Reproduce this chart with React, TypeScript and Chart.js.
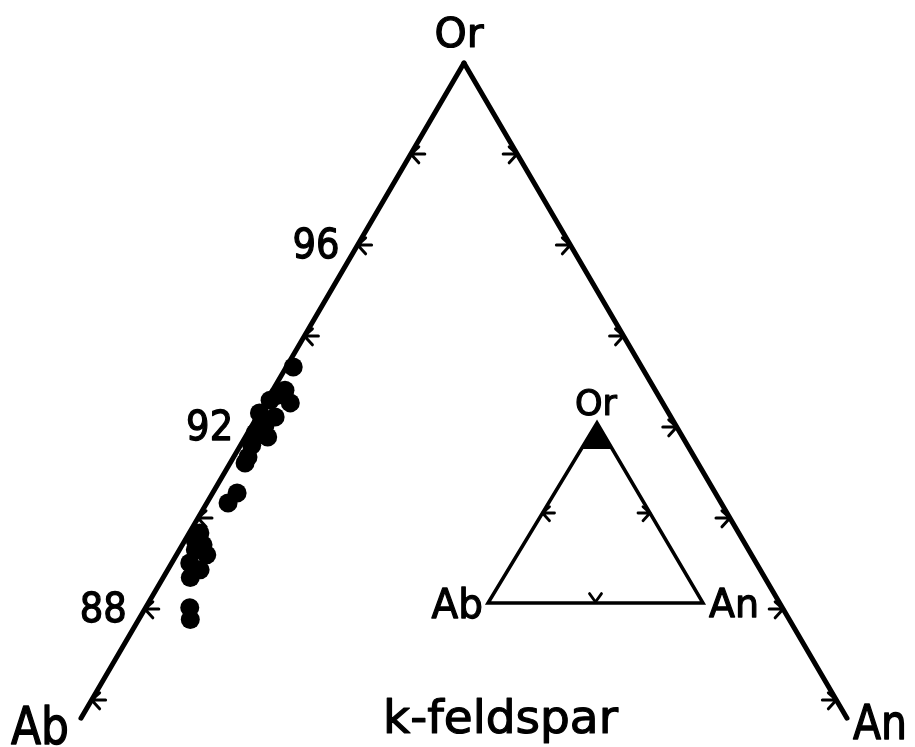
import React, { useEffect, useRef } from "react";
import { Chart, registerables } from "chart.js";

Chart.register(...registerables);

// ---- data (ternary: Or %, An %, Ab = remainder) ----
const OR_VALUES = [93.32, 92.81, 92.7, 92.53, 92.59, 92.31, 92.22, 92.14, 92.04, 91.87, 91.78, 91.6, 91.34, 91.21, 90.55, 90.33, 89.67, 89.5, 89.41, 89.3, 89.19, 89.01, 88.86, 88.69, 88.03, 87.77];
const AN_VALUES = [0.13, 0.23, 0.15, 0.47, 0.06, 0.0, 0.34, 0.13, 0.24, 0.14, 0.42, 0.21, 0.27, 0.28, 0.46, 0.4, 0.2, 0.2, 0.39, 0.3, 0.57, 0.34, 0.61, 0.51, 0.83, 0.97];
const OR_MIN = 85.6; // lower limit of the enlarged Or corner
const EDGE_TICKS = [86, 88, 90, 92, 94, 96, 98];
const LABELED_TICKS = ["88", "92", "96"];
const CORNER_LABELS = ["Or", "Ab", "An"];
const TITLE = "k-feldspar";

// ternary -> cartesian (x = An + Or/2, y = Or)
const tx = (or: number, an: number) => an + or / 2;

export default function App() {
  const ref = useRef<HTMLCanvasElement | null>(null);
  useEffect(() => {
    const canvas = ref.current!;
    const leftEdge = [
      { x: tx(100, 0), y: 100 },
      { x: tx(OR_MIN, 0), y: OR_MIN },
    ];
    const rightEdge = [
      { x: tx(100, 0), y: 100 },
      { x: tx(OR_MIN, 100 - OR_MIN), y: OR_MIN },
    ];
    const pts = OR_VALUES.map((o, i) => ({ x: tx(o, AN_VALUES[i]), y: o }));

    const txt = (ctx: CanvasRenderingContext2D, s: string, x: number, y: number, size: number, align: CanvasTextAlign, sy = 1.1) => {
      ctx.save();
      ctx.font = `${size}px "DejaVu Sans"`;
      ctx.textAlign = align;
      ctx.textBaseline = "alphabetic";
      ctx.fillStyle = "#000";
      ctx.strokeStyle = "#000";
      ctx.lineWidth = 1.2;
      ctx.lineJoin = "round";
      ctx.translate(x, y);
      ctx.scale(1, sy);
      ctx.fillText(s, 0, 0);
      ctx.strokeText(s, 0, 0);
      ctx.restore();
    };

    const arrow = (ctx: CanvasRenderingContext2D, x: number, y: number, dir: "left" | "right" | "down", len: number, arm: number, lw: number) => {
      ctx.save();
      ctx.strokeStyle = "#000";
      ctx.lineWidth = lw;
      ctx.lineCap = "round";
      ctx.lineJoin = "round";
      ctx.beginPath();
      if (dir === "left" || dir === "right") {
        const s = dir === "left" ? 1 : -1;
        ctx.moveTo(x, y);
        ctx.lineTo(x + s * len, y);
        ctx.moveTo(x + s * arm, y - arm * 0.9);
        ctx.lineTo(x, y);
        ctx.lineTo(x + s * arm, y + arm * 1.1);
      } else {
        ctx.moveTo(x - arm, y - arm * 1.4);
        ctx.lineTo(x, y);
        ctx.lineTo(x + arm, y - arm * 1.4);
      }
      ctx.stroke();
      ctx.restore();
    };

    const decor = {
      id: "ternaryDecor",
      afterDatasetsDraw(chart: any) {
        const ctx: CanvasRenderingContext2D = chart.ctx;
        const xs = chart.scales.x;
        const ys = chart.scales.y;
        const P = (or: number, an: number) => ({ x: xs.getPixelForValue(tx(or, an)), y: ys.getPixelForValue(or) });

        // edge ticks
        EDGE_TICKS.forEach((o) => {
          const l = P(o, 0);
          arrow(ctx, l.x, l.y, "left", 14, 8, 3);
          const r = P(o, 100 - o);
          arrow(ctx, r.x, r.y, "right", 14, 8, 3);
          if (LABELED_TICKS.includes(String(o))) {
            txt(ctx, String(o), l.x - 18, l.y + 13, 37, "right", 1.1);
          }
        });

        // corner labels
        const apex = P(100, 0);
        const abEnd = P(OR_MIN, 0);
        const anEnd = P(OR_MIN, 100 - OR_MIN);
        txt(ctx, CORNER_LABELS[0], apex.x - 5, apex.y - 16, 41, "center", 1.0);
        txt(ctx, CORNER_LABELS[1], abEnd.x - 70, abEnd.y + 26, 44, "left", 1.18);
        txt(ctx, CORNER_LABELS[2], anEnd.x + 6, anEnd.y + 21, 41, "left", 1.15);

        // title
        txt(ctx, TITLE, 383, 733, 47, "left", 1.0);

        // inset: full ternary diagram with the enlarged region filled
        const IN = { apexX: 597, apexY: 423, left: 488, right: 703, base: 603 };
        const ip = (or: number, an: number) => {
          const f = or / 100;
          const ab = 1 - f - an / 100;
          return {
            x: f * IN.apexX + ab * IN.left + (an / 100) * IN.right,
            y: f * IN.apexY + (1 - f) * IN.base,
          };
        };
        const iOr = ip(100, 0), iAb = ip(0, 0), iAn = ip(0, 100);
        ctx.save();
        ctx.strokeStyle = "#000";
        ctx.lineWidth = 3.5;
        ctx.lineJoin = "miter";
        ctx.beginPath();
        ctx.moveTo(iOr.x, iOr.y);
        ctx.lineTo(iAb.x, iAb.y);
        ctx.lineTo(iAn.x, iAn.y);
        ctx.closePath();
        ctx.stroke();
        const f1 = ip(OR_MIN, 0), f2 = ip(OR_MIN, 100 - OR_MIN);
        ctx.fillStyle = "#000";
        ctx.beginPath();
        ctx.moveTo(iOr.x, iOr.y);
        ctx.lineTo(f1.x, f1.y);
        ctx.lineTo(f2.x, f2.y);
        ctx.closePath();
        ctx.fill();
        ctx.restore();
        const mL = ip(50, 0), mR = ip(50, 50), mB = ip(0, 50);
        arrow(ctx, mL.x, mL.y, "left", 12, 7, 2.8);
        arrow(ctx, mR.x, mR.y, "right", 12, 7, 2.8);
        arrow(ctx, mB.x, mB.y - 1, "down", 10, 6, 2.8);
        txt(ctx, CORNER_LABELS[0], iOr.x - 1, iOr.y - 8, 35, "center", 1.0);
        txt(ctx, CORNER_LABELS[1], iAb.x - 5, iAb.y + 15, 39, "right", 1.05);
        txt(ctx, CORNER_LABELS[2], iAn.x + 6, iAn.y + 14, 38, "left", 1.05);
      },
    };

    const chart = new Chart(canvas, {
      type: "scatter",
      data: {
        datasets: [
          { data: leftEdge, showLine: true, borderColor: "#000", borderWidth: 5, pointRadius: 0, borderCapStyle: "round" } as any,
          { data: rightEdge, showLine: true, borderColor: "#000", borderWidth: 5, pointRadius: 0, borderCapStyle: "round" } as any,
          { data: pts, showLine: false, pointRadius: 9.5, backgroundColor: "#000", borderColor: "#000", borderWidth: 0 } as any,
        ],
      },
      options: {
        animation: false,
        responsive: false,
        layout: { padding: 0, autoPadding: false } as any,
        plugins: { legend: { display: false }, tooltip: { enabled: false } },
        scales: {
          x: { type: "linear", min: 41.278, max: 58.478, display: false },
          y: { type: "linear", min: 84.967, max: 101.385, display: false },
        },
      },
      plugins: [decor],
    });
    return () => chart.destroy();
  }, []);

  return (
    <div style={{ position: "fixed", left: 0, top: 0, width: 915, height: 747, background: "#fff" }}>
      <canvas ref={ref} width={915} height={747} style={{ display: "block" }} />
    </div>
  );
}
